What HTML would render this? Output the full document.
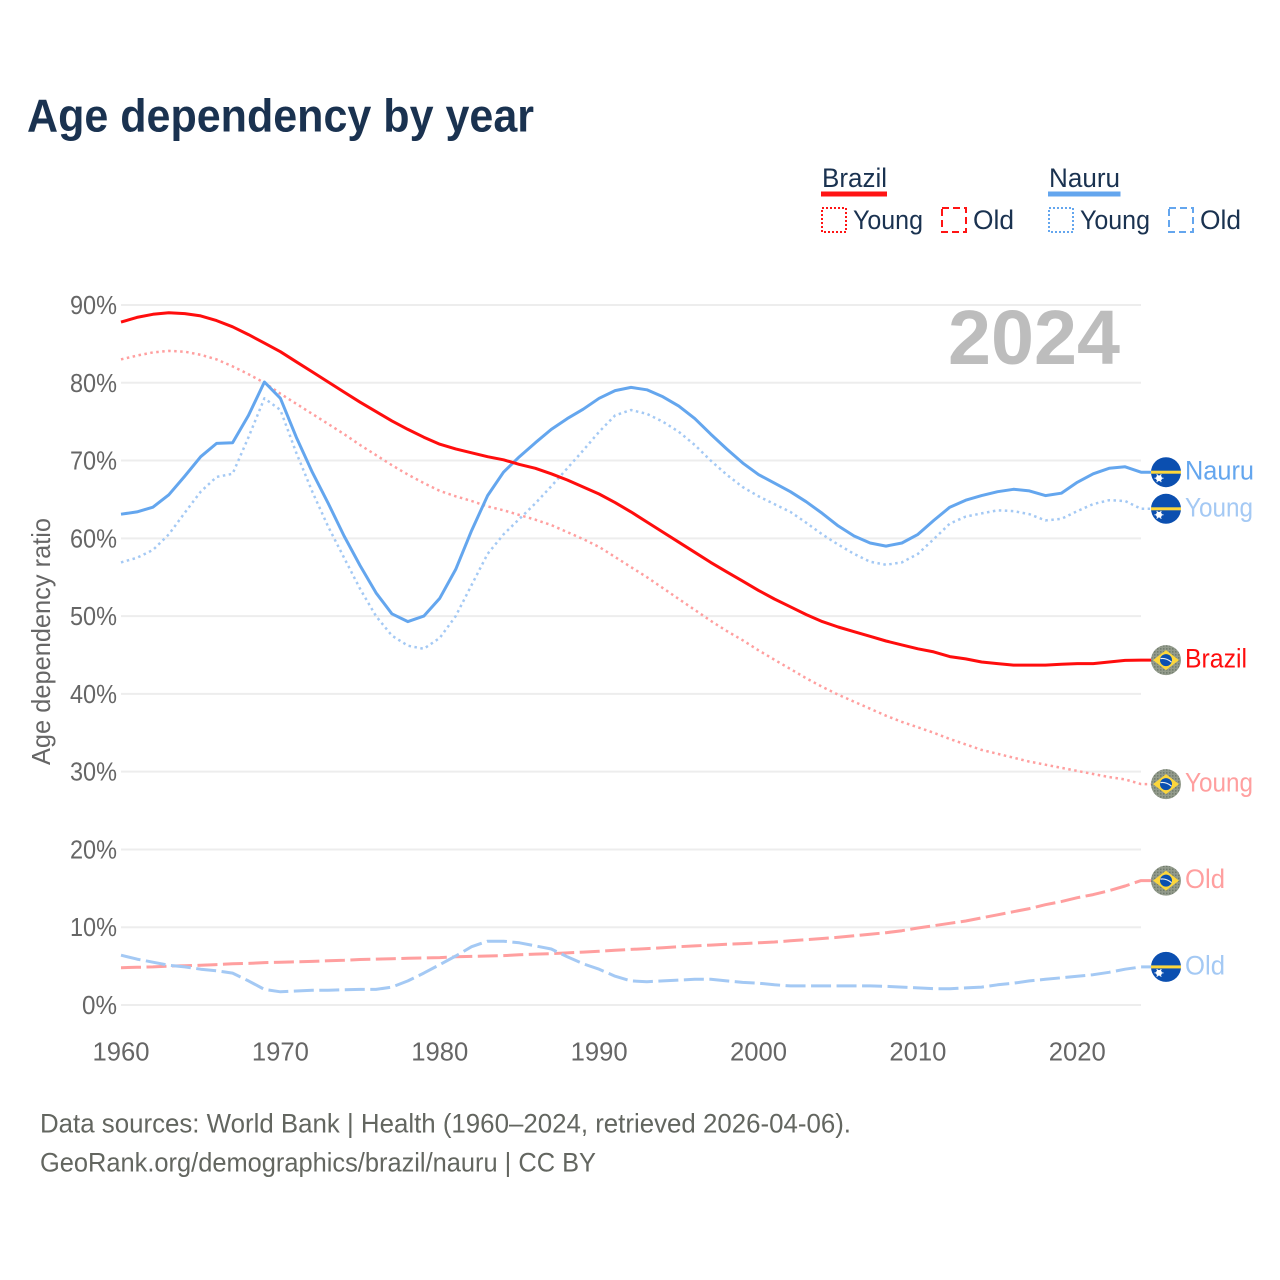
<!DOCTYPE html>
<html>
<head>
<meta charset="utf-8">
<title>Age dependency by year</title>
<style>
html,body{margin:0;padding:0;background:#fff;}
svg{display:block;font-family:"Liberation Sans",sans-serif;}
</style>
</head>
<body>
<svg id="chart" width="1280" height="1280" viewBox="0 0 1280 1280" xmlns="http://www.w3.org/2000/svg">
<defs>
<pattern id="dither" width="3" height="3" patternUnits="userSpaceOnUse"><rect width="3" height="3" fill="#939b8c"/><rect width="1.5" height="1.5" fill="#6f7a6b"/></pattern>
<clipPath id="flag-clip"><circle cx="0" cy="0" r="15"/></clipPath>
</defs>
<rect width="1280" height="1280" fill="#ffffff"/>
<text x="27" y="131.500" font-size="46" font-weight="bold" fill="#1a3250" textLength="507" lengthAdjust="spacingAndGlyphs">Age dependency by year</text>

<g font-size="27" fill="#1a3250">
<text x="822" y="187" textLength="65" lengthAdjust="spacingAndGlyphs">Brazil</text>
<rect x="821" y="191.500" width="66" height="5" fill="#ff1414"/>
<rect x="822" y="208" width="24" height="24" fill="none" stroke="#ff1414" stroke-width="2" stroke-dasharray="2 2"/>
<text x="853" y="229" textLength="70" lengthAdjust="spacingAndGlyphs">Young</text>
<rect x="942" y="208" width="24" height="24" fill="none" stroke="#ff1414" stroke-width="2" stroke-dasharray="7 4"/>
<text x="973" y="229" textLength="41" lengthAdjust="spacingAndGlyphs">Old</text>
<text x="1049" y="187" textLength="71" lengthAdjust="spacingAndGlyphs">Nauru</text>
<rect x="1048" y="191.500" width="72.500" height="5" fill="#64a6ee"/>
<rect x="1049" y="208" width="24" height="24" fill="none" stroke="#64a6ee" stroke-width="2" stroke-dasharray="2 2"/>
<text x="1080" y="229" textLength="70" lengthAdjust="spacingAndGlyphs">Young</text>
<rect x="1169" y="208" width="24" height="24" fill="none" stroke="#64a6ee" stroke-width="2" stroke-dasharray="7 4"/>
<text x="1200" y="229" textLength="41" lengthAdjust="spacingAndGlyphs">Old</text>
</g>

<g id="grid"></g>
<g id="yticks"></g>
<g id="xticks"></g>
<text x="948" y="364" font-size="77" font-weight="bold" fill="#bdbdbd" textLength="172" lengthAdjust="spacingAndGlyphs">2024</text>
<text transform="translate(50,765) rotate(-90)" font-size="26" fill="#666666" textLength="247" lengthAdjust="spacingAndGlyphs">Age dependency ratio</text>
<g id="series"></g>
<g id="endlabels"></g>

<text x="40" y="1132.500" font-size="27" fill="#636660" textLength="811" lengthAdjust="spacingAndGlyphs">Data sources: World Bank | Health (1960–2024, retrieved 2026-04-06).</text>
<text x="40" y="1171.500" font-size="27" fill="#636660" textLength="556" lengthAdjust="spacingAndGlyphs">GeoRank.org/demographics/brazil/nauru | CC BY</text>
</svg>
<script>
var startYear = 1960;
var endYear = 2024;
var yTickValues = [0, 10, 20, 30, 40, 50, 60, 70, 80, 90];
var xTickValues = [1960, 1970, 1980, 1990, 2000, 2010, 2020];

var brazilTotal = [87.8,88.4,88.8,89.0,88.9,88.6,88.0,87.2,86.2,85.1,84.0,82.7,81.4,80.1,78.8,77.5,76.3,75.1,74.0,73.0,72.1,71.5,71.0,70.5,70.1,69.5,69.0,68.3,67.5,66.6,65.7,64.6,63.4,62.1,60.8,59.5,58.2,56.9,55.7,54.5,53.3,52.2,51.2,50.2,49.3,48.6,48.0,47.4,46.8,46.3,45.8,45.4,44.8,44.5,44.1,43.9,43.7,43.7,43.7,43.8,43.9,43.9,44.1,44.3,44.35];
var brazilYoung = [83.0,83.5,83.9,84.1,84.0,83.6,83.0,82.1,81.1,80.0,78.6,77.3,76.0,74.7,73.4,72.0,70.7,69.4,68.2,67.1,66.1,65.4,64.8,64.1,63.6,63.0,62.4,61.7,60.8,59.9,58.9,57.6,56.3,55.0,53.6,52.2,50.8,49.4,48.1,46.9,45.6,44.4,43.2,42.0,40.9,39.9,39.0,38.1,37.2,36.4,35.7,35.0,34.2,33.5,32.8,32.3,31.8,31.3,30.9,30.5,30.1,29.7,29.3,29.0,28.4];
var brazilOld = [4.8,4.85,4.9,5.0,5.05,5.1,5.2,5.3,5.35,5.45,5.5,5.55,5.6,5.7,5.75,5.85,5.9,5.95,6.0,6.05,6.1,6.2,6.25,6.3,6.35,6.45,6.55,6.6,6.7,6.8,6.9,7.05,7.15,7.25,7.35,7.5,7.6,7.7,7.8,7.9,8.0,8.1,8.25,8.4,8.55,8.7,8.9,9.1,9.3,9.55,9.9,10.2,10.5,10.8,11.2,11.6,12.0,12.4,12.9,13.3,13.8,14.2,14.7,15.3,16.0];
var nauruTotal = [63.1,63.4,64.0,65.6,68.0,70.5,72.2,72.3,75.8,80.1,78.0,73.0,68.5,64.5,60.3,56.5,53.0,50.3,49.3,50.0,52.3,56.0,61.0,65.5,68.5,70.5,72.3,74.0,75.4,76.6,78.0,79.0,79.4,79.1,78.2,77.0,75.4,73.4,71.5,69.7,68.2,67.1,66.0,64.7,63.2,61.6,60.3,59.4,59.0,59.4,60.5,62.3,64.0,64.9,65.5,66.0,66.3,66.1,65.5,65.8,67.2,68.3,69.0,69.2,68.5];
var nauruYoung = [56.9,57.5,58.5,60.5,63.3,66.0,67.9,68.3,73.0,78.0,76.5,71.0,66.0,61.5,57.5,53.5,50.0,47.5,46.2,45.8,47.2,50.0,54.0,58.0,60.5,62.5,64.5,66.7,69.0,71.3,73.7,75.8,76.5,76.0,75.0,73.7,72.0,70.0,68.2,66.6,65.4,64.4,63.4,62.0,60.5,59.2,58.0,57.0,56.6,56.9,58.0,59.9,61.9,62.8,63.2,63.6,63.5,63.1,62.3,62.5,63.5,64.4,64.9,64.8,63.8];
var nauruOld = [6.4,5.9,5.5,5.1,4.9,4.6,4.4,4.1,3.1,2.0,1.7,1.8,1.9,1.9,1.95,2.0,2.0,2.3,3.1,4.1,5.2,6.3,7.5,8.2,8.2,8.0,7.6,7.2,6.2,5.3,4.6,3.7,3.1,3.0,3.1,3.2,3.3,3.3,3.1,2.9,2.8,2.6,2.45,2.45,2.45,2.45,2.45,2.45,2.4,2.3,2.2,2.1,2.1,2.2,2.3,2.6,2.8,3.1,3.3,3.5,3.7,3.9,4.2,4.6,4.9];

var seriesBrazilTotalLabel = 'Brazil';
var seriesNauruTotalLabel = 'Nauru';
var seriesYoungLabel = 'Young';
var seriesOldLabel = 'Old';

var NS = 'http://www.w3.org/2000/svg';
function xScale(year) { return 121 + (year - startYear) * (1141 - 121) / (endYear - startYear); }
function yScale(pct) { return 1005 - pct * (1005 - 305) / 90; }
function make(tag, parent) {
  var el = document.createElementNS(NS, tag);
  parent.appendChild(el);
  return el;
}
function setAll(el, attrs) {
  for (var k in attrs) { el.setAttribute(k, attrs[k]); }
}

var grid = document.getElementById('grid');
var yticks = document.getElementById('yticks');
var xticks = document.getElementById('xticks');
yTickValues.forEach(function (v) {
  var line = make('line', grid);
  
  
  setAll(line, { x1: 121, x2: 1141, y1: yScale(v), y2: yScale(v), stroke: '#ededed', 'stroke-width': 2 });
  var t = make('text', yticks);
  
  
  setAll(t, { x: 117, y: yScale(v) + 9, 'text-anchor': 'end', 'font-size': 26, fill: '#666666', textLength: v === 0 ? 35 : 47, lengthAdjust: 'spacingAndGlyphs' });
  t.textContent = v + '%';
});
xTickValues.forEach(function (v) {
  var t = make('text', xticks);
  
  
  setAll(t, { x: xScale(v), y: 1060.5, 'text-anchor': 'middle', 'font-size': 26, fill: '#666666', textLength: 57, lengthAdjust: 'spacingAndGlyphs' });
  t.textContent = v;
});

var seriesGroup = document.getElementById('series');
var labelGroup = document.getElementById('endlabels');

function drawSeries(values, name, color, width, dash) {
  var pts = values.map(function (v, i) { return xScale(startYear + i).toFixed(1) + ',' + yScale(v).toFixed(1); });
  pts.push('1152,' + yScale(values[values.length - 1]).toFixed(1));
  var line = make('polyline', seriesGroup);
  
  
  setAll(line, { points: pts.join(' '), fill: 'none', stroke: color, 'stroke-width': width, 'stroke-linejoin': 'round' });
  if (dash) { line.setAttribute('stroke-dasharray', dash); }
}

function drawBrazilFlag(g) {
  var c = make('circle', g);
  setAll(c, { r: 15, fill: 'url(#dither)' });
  var d = make('polygon', g);
  setAll(d, { points: '-13,0 0,-10 13,0 0,10', fill: '#fcd63c' });
  var b = make('circle', g);
  setAll(b, { r: 6, fill: '#0b4fb0' });
  var a = make('path', g);
  setAll(a, { d: 'M-5.500,-1.500 Q0,-2.500 5.500,2', fill: 'none', stroke: '#e8eef5', 'stroke-width': 1.2 });
}
function drawNauruFlag(g) {
  var c = make('circle', g);
  setAll(c, { r: 15, fill: '#0b4fb0' });
  var s = make('rect', g);
  setAll(s, { x: -15, y: -1.5, width: 30, height: 3, fill: '#fcd63c' });
  var w = make('circle', g);
  setAll(w, { cx: -7, cy: 6, r: 3, fill: '#ffffff' });
  for (var i = 0; i < 6; i++) {
    var ray = make('line', g);
    var ang = i * Math.PI / 3;
    setAll(ray, { x1: -7, y1: 6, x2: -7 + 4.5 * Math.cos(ang), y2: 6 + 4.5 * Math.sin(ang), stroke: '#ffffff', 'stroke-width': 1 });
  }
}
function drawEnd(values, country, text, color, name) {
  var y = yScale(values[values.length - 1]);
  var g = make('g', labelGroup);
  
  
  g.setAttribute('transform', 'translate(1166,' + y.toFixed(1) + ')');
  if (country === 'Brazil') { drawBrazilFlag(g); } else { drawNauruFlag(g); }
  var t = make('text', labelGroup);
  
  
  var lens = { Nauru: 69, Young: 68, Brazil: 62, Old: 40 };
  setAll(t, { x: 1185, y: (y + 7.5).toFixed(1), 'font-size': 27, fill: color, textLength: lens[text], lengthAdjust: 'spacingAndGlyphs' });
  t.textContent = text;
}

var RED = '#ff0d0d', PINK = '#ff9f9f', BLUE = '#64a6ee', LIGHT = '#a4c9f4';
drawSeries(brazilYoung, 'brazil-young-line', PINK, 2.5, '2.5 3.5');
drawSeries(brazilOld, 'brazil-old-line', PINK, 3, '20 5.500');
drawSeries(nauruYoung, 'nauru-young-line', LIGHT, 2.5, '2.5 3.5');
drawSeries(nauruOld, 'nauru-old-line', LIGHT, 3, '20 5.500');
drawSeries(nauruTotal, 'nauru-total-line', BLUE, 3, null);
drawSeries(brazilTotal, 'brazil-total-line', RED, 3, null);

drawEnd(nauruTotal, 'Nauru', seriesNauruTotalLabel, BLUE, 'nauru-total');
drawEnd(nauruYoung, 'Nauru', seriesYoungLabel, LIGHT, 'nauru-young');
drawEnd(brazilTotal, 'Brazil', seriesBrazilTotalLabel, RED, 'brazil-total');
drawEnd(brazilYoung, 'Brazil', seriesYoungLabel, PINK, 'brazil-young');
drawEnd(brazilOld, 'Brazil', seriesOldLabel, PINK, 'brazil-old');
drawEnd(nauruOld, 'Nauru', seriesOldLabel, LIGHT, 'nauru-old');
</script>
</body>
</html>
